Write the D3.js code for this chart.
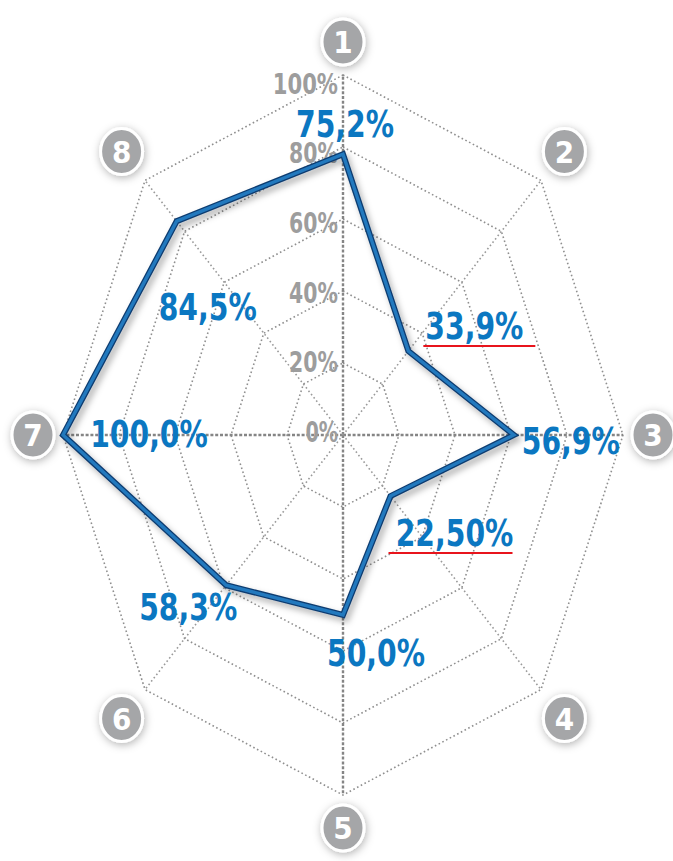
<!DOCTYPE html>
<html>
<head>
<meta charset="utf-8">
<script src="https://cdn.jsdelivr.net/npm/d3@7"></script>
<style>
  body { margin: 0; background: #fff; }
  svg { display: block; }
</style>
</head>
<body>
<div></div>
<script>
var width = 673;
var height = 861;

// data
var axes = ["1", "2", "3", "4", "5", "6", "7", "8"];
var values = [78, 33, 61, 24, 50, 59, 100, 84];          // plotted position
var valueLabels = ["75,2%", "33,9%", "56,9%", "22,50%", "50,0%", "58,3%", "100,0%", "84,5%"];
var levels = [20, 40, 60, 80, 100];
var tickValues = [0, 20, 40, 60, 80, 100];
var tickLabels = ["0%", "20%", "40%", "60%", "80%", "100%"];
var underlined = ["33,9%", "22,50%"];

// label offsets from each vertex
var labelOffset = [[2, -31], [66, -25], [57, 6], [64, 37], [33, 38], [-38, 21], [86, -1], [31, 86]];
// red underline extents, relative to label centre
var underlineExtent = { "33,9%": [-51, 61], "22,50%": [-66, 58] };

var cx = 343, cy = 435;

var svg = d3.select("div")
    .append("svg")
    .attr("width", width)
    .attr("height", height);

var defs = svg.append("defs");
var sh = defs.append("filter").attr("id", "shadow")
    .attr("x", "-20%").attr("y", "-20%").attr("width", "140%").attr("height", "140%");
sh.append("feDropShadow").attr("dx", 3).attr("dy", 4).attr("stdDeviation", 3)
    .attr("flood-color", "#000").attr("flood-opacity", 0.3);
var glow = defs.append("filter").attr("id", "glow")
    .attr("x", "-50%").attr("y", "-50%").attr("width", "200%").attr("height", "200%");
glow.append("feDropShadow").attr("dx", 1).attr("dy", 2).attr("stdDeviation", 4)
    .attr("flood-color", "#000").attr("flood-opacity", 0.3);

var rx = d3.scaleLinear().domain([0, 100]).range([0, 280]);
var ry = d3.scaleLinear().domain([0, 100]).range([0, 360]);
var angle = d3.scaleLinear().domain([0, axes.length]).range([0, 2 * Math.PI]);
var tickY = d3.scaleLinear().domain([0, 100]).range([432, 84]);

function pt(i, v) {
    var a = angle(i);
    return [cx + rx(v) * Math.sin(a), cy - ry(v) * Math.cos(a)];
}

// rings
var ring = d3.line().curve(d3.curveLinearClosed);
svg.append("g").selectAll("path")
    .data(levels)
    .join("path")
    .attr("d", function (l) { return ring(axes.map(function (d, i) { return pt(i, l); })); })
    .attr("fill", "none")
    .attr("stroke", "#8f8f8f")
    .attr("stroke-width", 1.6)
    .attr("stroke-dasharray", "1.6,2.6");

// spokes
svg.append("g").selectAll("line")
    .data(axes)
    .join("line")
    .attr("x1", cx).attr("y1", cy)
    .attr("x2", function (d, i) { return pt(i, 100)[0]; })
    .attr("y2", function (d, i) { return pt(i, 100)[1]; })
    .attr("stroke", function (d, i) { return i % 2 ? "#9a9a9a" : "#858585"; })
    .attr("stroke-width", function (d, i) { return i % 2 ? 1.6 : 2.4; })
    .attr("stroke-dasharray", function (d, i) { return i % 2 ? "1.6,2.6" : "3,1.8"; });

// tick labels
svg.append("g").selectAll("text")
    .data(tickValues)
    .join("text")
    .attr("x", 338)
    .attr("y", function (d) { return tickY(d); })
    .attr("dy", "0.35em")
    .attr("text-anchor", "end")
    .attr("font-family", "'Liberation Sans Narrow', 'DejaVu Sans Condensed', sans-serif")
    .attr("font-weight", "bold")
    .attr("font-size", 28)
    .attr("fill", "#9d9d9d")
    .attr("textLength", function (d, i) { return tickLabels[i].length * 16.3; })
    .attr("lengthAdjust", "spacingAndGlyphs")
    .text(function (d, i) { return tickLabels[i]; });

// data line
var pts = values.map(function (v, i) { return pt(i, v); });
var lineG = svg.append("g").attr("filter", "url(#shadow)");
lineG.append("path")
    .attr("d", ring(pts))
    .attr("fill", "none")
    .attr("stroke", "#0d3c70")
    .attr("stroke-width", 6)
    .attr("stroke-linejoin", "miter");
lineG.append("path")
    .attr("d", ring(pts))
    .attr("fill", "none")
    .attr("stroke", "#2479be")
    .attr("stroke-width", 3.4)
    .attr("stroke-linejoin", "miter");

// value labels
var vl = svg.append("g").selectAll("g")
    .data(valueLabels)
    .join("g")
    .attr("transform", function (d, i) {
        return "translate(" + (pts[i][0] + labelOffset[i][0]) + "," + (pts[i][1] + labelOffset[i][1]) + ")";
    });
vl.append("text")
    .attr("text-anchor", "middle")
    .attr("dy", "0.36em")
    .attr("font-family", "'Liberation Sans Narrow', 'DejaVu Sans Condensed', sans-serif")
    .attr("font-weight", "bold")
    .attr("font-size", 37)
    .attr("fill", "#0b77c1")
    .attr("textLength", function (d) { return d.length * 19.6; })
    .attr("lengthAdjust", "spacingAndGlyphs")
    .text(function (d) { return d; });
vl.filter(function (d) { return underlined.indexOf(d) >= 0; })
    .append("line")
    .attr("x1", function (d) { return underlineExtent[d][0]; })
    .attr("x2", function (d) { return underlineExtent[d][1]; })
    .attr("y1", 20).attr("y2", 20)
    .attr("stroke", "#e8141c")
    .attr("stroke-width", 2);

// axis badges
var badge = svg.append("g").selectAll("g")
    .data(axes)
    .join("g")
    .attr("transform", function (d, i) {
        var a = angle(i);
        var x = cx + (rx(100) + 30) * Math.sin(a) * (i % 2 ? 1.01 : 1);
        var y = cy - (ry(100) + 33) * Math.cos(a) * (i % 2 ? 1.02 : 1);
        return "translate(" + x + "," + y + ")";
    });
badge.append("ellipse")
    .attr("rx", 21).attr("ry", 23)
    .attr("fill", "#a5a6a8")
    .attr("stroke", "#fff")
    .attr("stroke-width", 3)
    .attr("filter", "url(#glow)");
badge.append("text")
    .attr("text-anchor", "middle")
    .attr("dy", "0.36em")
    .attr("font-family", "'Liberation Sans Narrow', 'DejaVu Sans Condensed', sans-serif")
    .attr("font-weight", "bold")
    .attr("font-size", 31)
    .attr("fill", "#fff")
    .text(function (d) { return d; });
</script>
</body>
</html>
